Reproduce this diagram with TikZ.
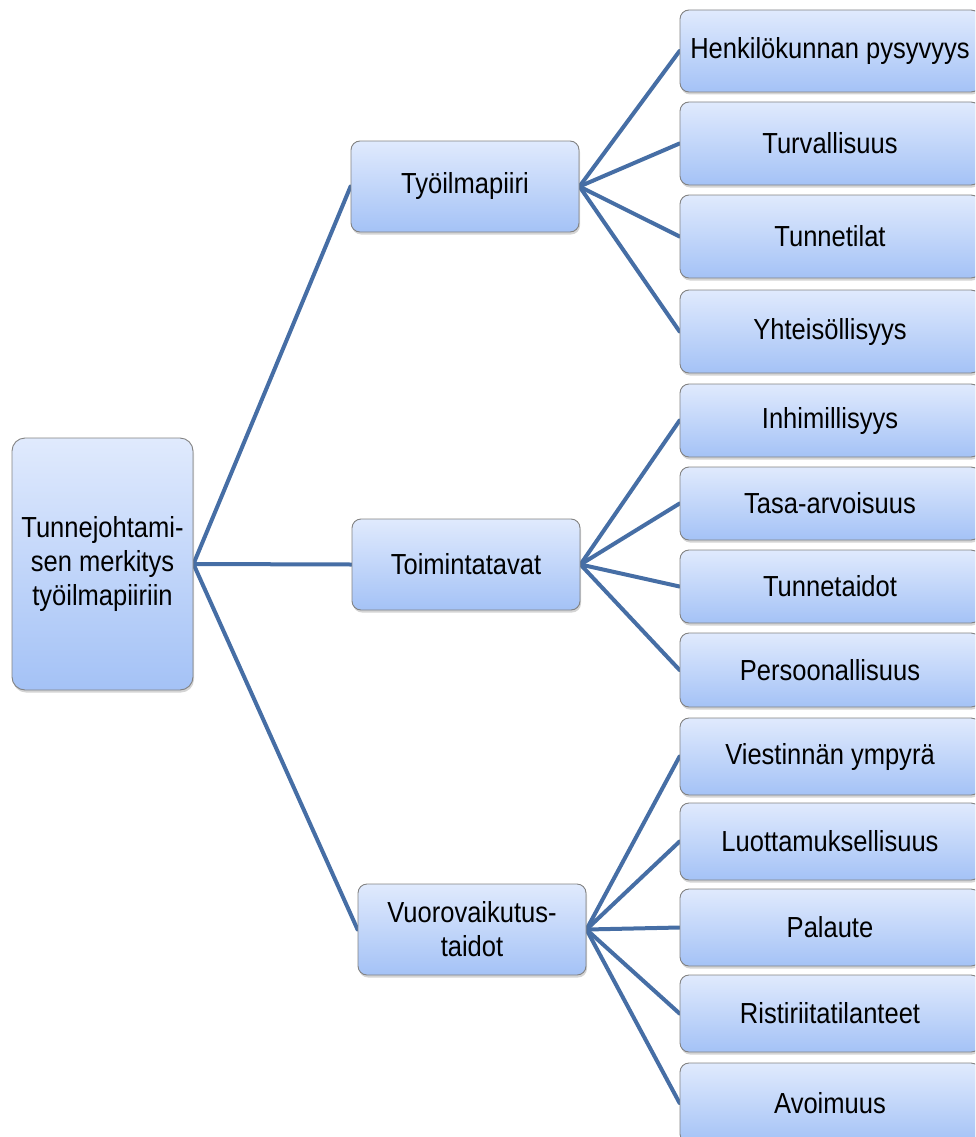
\documentclass[tikz,border=0pt]{standalone}
\usepackage{fontspec}
\setmainfont[FakeStretch=0.88]{Liberation Sans}
\usetikzlibrary{shadows,backgrounds}
\definecolor{linkblue}{RGB}{70,110,165}
\definecolor{boxtop}{RGB}{224,234,253}
\definecolor{boxbot}{RGB}{164,194,246}
\definecolor{boxline}{RGB}{130,130,130}
\tikzset{
  box/.style={draw=boxline, line width=0.9pt, rounded corners=9pt,
    top color=boxtop, bottom color=boxbot, inner sep=0pt,
    align=center, text=black,
    font=\fontsize{29}{34}\selectfont,
    drop shadow={shadow xshift=1pt, shadow yshift=-2.5pt, opacity=0.28, fill=black!60}},
  leaf/.style={box, minimum width=300pt},
  mid/.style={box, minimum width=228pt, minimum height=91pt},
  link/.style={draw=linkblue, line width=4pt, line cap=round}
}
\begin{document}
\begin{tikzpicture}[x=1pt,y=-1pt]
\useasboundingbox (0,0) rectangle (975,1137);
\clip (0,0) rectangle (975,1137);
% root
\node[box, minimum width=181pt, minimum height=252pt, rounded corners=13pt] (root) at (102.5,564) {Tunnejohtami-\\sen merkitys\\työilmapiiriin};
% mid level
\node[mid] (m1) at (465,186.5) {Työilmapiiri};
\node[mid] (m2) at (466,564.5) {Toimintatavat};
\node[mid] (m3) at (472,929.5) {Vuorovaikutus-\\taidot};
% leaves
\node[leaf, minimum height=82pt] (l1) at (830,51) {Henkilökunnan pysyvyys};
\node[leaf, minimum height=83pt] (l2) at (830,143.5) {Turvallisuus};
\node[leaf, minimum height=83pt] (l3) at (830,236.5) {Tunnetilat};
\node[leaf, minimum height=83pt] (l4) at (830,331.5) {Yhteisöllisyys};
\node[leaf, minimum height=73pt] (l5) at (830,420.5) {Inhimillisyys};
\node[leaf, minimum height=73pt] (l6) at (830,503.5) {Tasa-arvoisuus};
\node[leaf, minimum height=73pt] (l7) at (830,586.5) {Tunnetaidot};
\node[leaf, minimum height=74pt] (l8) at (830,670) {Persoonallisuus};
\node[leaf, minimum height=77pt] (l9) at (830,756.5) {Viestinnän ympyrä};
\node[leaf, minimum height=77pt] (l10) at (830,841.5) {Luottamuksellisuus};
\node[leaf, minimum height=77pt] (l11) at (830,927.5) {Palaute};
\node[leaf, minimum height=77pt] (l12) at (830,1013.5) {Ristiriitatilanteet};
\node[leaf, minimum height=80pt] (l13) at (830,1103) {Avoimuus};
% connectors
\begin{scope}[on background layer]
\foreach \m in {m1,m2,m3} \draw[link] (root.east) -- (\m.west);
\foreach \l in {l1,l2,l3,l4} \draw[link] (m1.east) -- (\l.west);
\foreach \l in {l5,l6,l7,l8} \draw[link] (m2.east) -- (\l.west);
\foreach \l in {l9,l10,l11,l12,l13} \draw[link] (m3.east) -- (\l.west);
\end{scope}
\end{tikzpicture}
\end{document}
